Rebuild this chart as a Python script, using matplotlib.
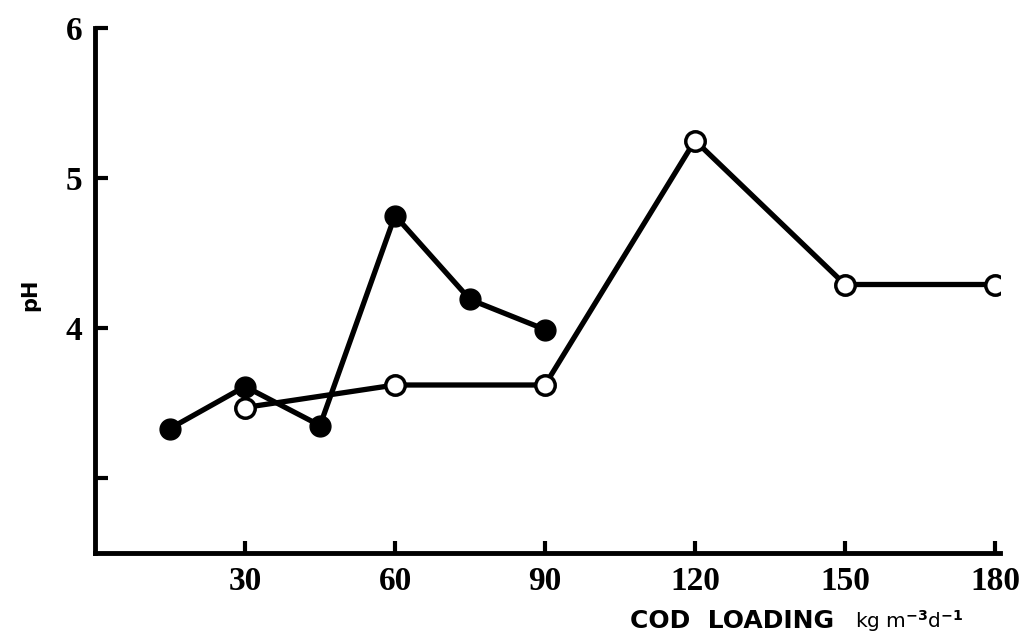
import matplotlib
matplotlib.use("Agg")
import matplotlib.pyplot as plt

# filled circles series
filled_x = [15, 30, 45, 60, 75, 90]
filled_ph = [3.33, 3.61, 3.35, 4.75, 4.19, 3.99]

# open circles series
open_x = [30, 60, 90, 120, 150, 180]
open_ph = [3.47, 3.62, 3.62, 5.25, 4.29, 4.29]

x_ticks = [30, 60, 90, 120, 150, 180]
y_ticks = [3, 4, 5, 6]
y_tick_labels = ["", "4", "5", "6"]

fig = plt.figure(figsize=(10.21, 6.37), dpi=100)
ax = fig.add_axes([95 / 1021, 1 - 553 / 637, 905 / 1021, 525 / 637])

ax.plot(filled_x, filled_ph, color="black", lw=3.8, marker="o", ms=15,
        mfc="black", mec="black", zorder=3)
ax.plot(open_x, open_ph, color="black", lw=3.8, marker="o", ms=14,
        mfc="white", mec="black", mew=2.5, zorder=4)

ax.set_xlim(0, 181)
ax.set_ylim(2.5, 6)
ax.set_xticks(x_ticks)
ax.set_yticks(y_ticks)
ax.set_yticklabels(y_tick_labels)

for side in ["top", "right"]:
    ax.spines[side].set_visible(False)
for side in ["left", "bottom"]:
    ax.spines[side].set_linewidth(3.5)

ax.tick_params(direction="in", length=9, width=3, pad=9)
for lab in ax.get_xticklabels() + ax.get_yticklabels():
    lab.set_fontfamily("Liberation Serif")
    lab.set_fontweight("bold")
    lab.set_fontsize(24)

fig.text(30 / 1021, 1 - 295 / 637, "pH", rotation=90, ha="center", va="center",
         fontsize=15, fontweight="bold", family="DejaVu Sans")
fig.text(630 / 1021, 1 - 621 / 637, "COD  LOADING", ha="left", va="center",
         fontsize=18, fontweight="bold", family="DejaVu Sans")
fig.text(855 / 1021, 1 - 621 / 637, r"kg m$^{\mathbf{-3}}$d$^{\mathbf{-1}}$",
         ha="left", va="center", fontsize=14.5, family="DejaVu Sans")

fig.savefig("out.png", dpi=100)
